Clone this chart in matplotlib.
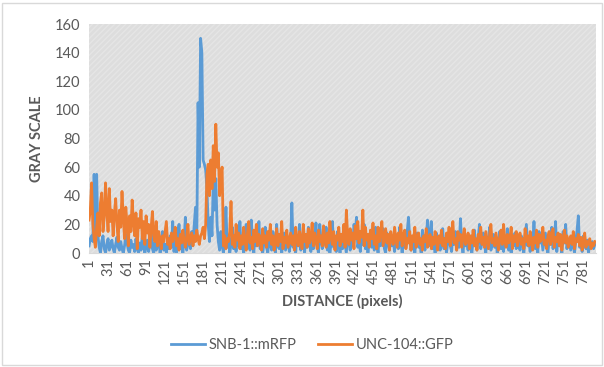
import numpy as np
import matplotlib.pyplot as plt
from matplotlib.patches import Rectangle
from matplotlib.lines import Line2D

plt.rcParams['font.family'] = ['Lato', 'DejaVu Sans']

# distance in pixels (every second pixel)
distance = np.arange(1, 800, 2)

snb1 = [
    5, 10, 12, 8, 55, 10, 55, 12, 4, 0, 8, 12, 3, 0, 6, 10, 2, 5, 9, 3,
    0, 6, 11, 4, 2, 8, 3, 0, 5, 13, 7, 2, 0, 9, 4, 6, 1, 10, 3, 0,
    7, 2, 12, 5, 0, 4, 9, 1, 6, 14, 3, 0, 8, 2, 5, 11, 0, 4, 15, 2,
    6, 0, 10, 3, 12, 4, 22, 1, 8, 0, 14, 20, 3, 6, 0, 9, 25, 2, 7, 10,
    3, 15, 8, 20, 32, 12, 105, 60, 150, 140, 65, 62, 58, 45, 20, 8, 25, 12, 50, 30,
    52, 20, 8, 2, 15, 5, 0, 10, 32, 4, 12, 0, 6, 18, 3, 9, 1, 14, 5, 22,
    3, 8, 0, 12, 20, 4, 10, 2, 23, 6, 0, 15, 5, 9, 22, 3, 11, 0, 7, 18,
    4, 0, 12, 6, 2, 15, 9, 0, 20, 5, 3, 11, 0, 8, 14, 2, 6, 10, 1, 7,
    35, 4, 9, 0, 12, 5, 20, 2, 7, 15, 0, 10, 4, 18, 6, 1, 12, 3, 8, 21,
    5, 0, 20, 9, 3, 14, 6, 18, 2, 10, 0, 7, 22, 4, 11, 1, 15, 6, 0, 9,
    3, 12, 6, 0, 16, 8, 2, 10, 5, 20, 14, 25, 4, 9, 1, 12, 6, 20, 3, 11,
    0, 8, 15, 4, 10, 2, 18, 6, 0, 12, 5, 9, 17, 3, 0, 14, 7, 2, 11, 5,
    9, 1, 13, 6, 3, 18, 8, 0, 11, 4, 7, 15, 25, 10, 2, 6, 12, 0, 9, 14,
    4, 8, 0, 16, 6, 2, 10, 23, 5, 12, 22, 3, 9, 0, 14, 6, 11, 2, 7, 17,
    3, 10, 0, 8, 13, 5, 1, 12, 6, 15, 2, 9, 4, 24, 7, 0, 11, 5, 8, 2,
    12, 4, 0, 9, 16, 6, 2, 10, 20, 3, 7, 14, 5, 0, 11, 8, 18, 2, 6, 13,
    4, 10, 0, 7, 15, 3, 9, 1, 12, 6, 17, 2, 8, 0, 11, 5, 14, 3, 9, 6,
    2, 12, 7, 0, 10, 20, 5, 8, 1, 13, 6, 22, 3, 9, 0, 15, 7, 11, 2, 8,
    14, 4, 0, 10, 6, 18, 3, 8, 22, 1, 12, 5, 9, 0, 15, 7, 20, 3, 10, 6,
    2, 11, 5, 0, 9, 16, 26, 4, 8, 1, 12, 6, 3, 9, 0, 7, 5, 8, 3, 6,
]

unc104 = [
    23, 30, 49, 20, 10, 4, 18, 28, 12, 35, 42, 15, 25, 49, 30, 15, 45, 22, 30, 12,
    28, 38, 20, 8, 30, 18, 43, 25, 10, 32, 20, 5, 26, 15, 37, 22, 12, 28, 3, 24,
    18, 30, 10, 22, 6, 26, 14, 20, 4, 18, 29, 12, 8, 22, 5, 15, 10, 3, 12, 8,
    15, 22, 6, 10, 3, 14, 8, 12, 18, 5, 10, 2, 13, 7, 16, 9, 4, 11, 20, 6,
    10, 14, 5, 12, 8, 16, 10, 6, 12, 14, 18, 10, 20, 55, 62, 40, 65, 45, 75, 50,
    90, 60, 70, 40, 55, 60, 5, 12, 3, 10, 8, 15, 36, 6, 12, 4, 20, 9, 14, 3,
    12, 6, 18, 9, 2, 14, 22, 7, 11, 3, 16, 8, 20, 5, 13, 10, 2, 17, 7, 12,
    4, 15, 9, 20, 6, 12, 2, 10, 17, 5, 13, 8, 22, 3, 11, 7, 16, 4, 9, 14,
    6, 12, 2, 18, 9, 5, 15, 10, 3, 20, 8, 13, 4, 17, 7, 11, 21, 5, 14, 9,
    3, 16, 8, 12, 5, 19, 10, 4, 14, 7, 22, 11, 6, 15, 2, 12, 9, 18, 5, 13,
    8, 20, 4, 30, 12, 6, 17, 9, 14, 3, 19, 10, 22, 7, 15, 11, 30, 5, 18, 9,
    13, 4, 16, 10, 21, 6, 12, 3, 18, 8, 14, 22, 5, 11, 17, 7, 13, 2, 15, 9,
    6, 18, 11, 4, 14, 9, 20, 5, 12, 16, 3, 10, 7, 15, 2, 12, 8, 18, 4, 11,
    14, 6, 10, 2, 12, 8, 17, 4, 9, 13, 3, 11, 6, 15, 9, 2, 12, 7, 16, 5,
    10, 3, 14, 8, 18, 5, 12, 22, 7, 10, 2, 15, 9, 13, 4, 11, 17, 6, 8, 14,
    3, 12, 7, 16, 5, 10, 2, 13, 8, 18, 6, 11, 4, 15, 9, 3, 12, 20, 7, 10,
    5, 14, 8, 2, 11, 16, 6, 20, 9, 4, 13, 7, 10, 18, 3, 12, 8, 15, 5, 11,
    14, 6, 10, 3, 17, 8, 12, 5, 15, 9, 2, 11, 7, 16, 4, 13, 8, 10, 18, 6,
    9, 3, 12, 15, 6, 10, 17, 4, 11, 8, 14, 5, 13, 2, 10, 16, 7, 12, 4, 9,
    12, 6, 15, 3, 10, 8, 13, 5, 11, 2, 9, 14, 4, 8, 6, 10, 3, 7, 5, 8,
]

x_ticks = np.arange(1, 800, 30)
y_ticks = np.arange(0, 161, 20)

blue = '#5B9BD5'
orange = '#ED7D31'
grey_txt = '#595959'

fig = plt.figure(figsize=(6.04, 3.67), dpi=100)
fig.patches.append(Rectangle((0.004, 0.006), 0.992, 0.986, transform=fig.transFigure,
                             fill=False, edgecolor='#d9d9d9', linewidth=1))

ax = fig.add_axes([0.1469, 0.3106, 0.840, 0.624])
ax.set_facecolor('#dddddd')
ax.add_patch(Rectangle((0, 0), 1, 1, transform=ax.transAxes, facecolor='none',
                       edgecolor='#e5e5e5', hatch='//////', linewidth=0, zorder=0))

ax.plot(distance, snb1, color=blue, linewidth=2.0, label='SNB-1::mRFP', zorder=2)
ax.plot(distance, unc104, color=orange, linewidth=2.0, label='UNC-104::GFP', zorder=3)

ax.set_xlim(0.5, 801)
ax.set_ylim(0, 160)
ax.set_xticks(x_ticks)
ax.set_xticklabels([str(t) for t in x_ticks], rotation=90)
ax.set_yticks(y_ticks)
ax.tick_params(length=0, labelsize=10.5, colors=grey_txt, pad=4)
ax.tick_params(axis='y', pad=6)

for s in ['top', 'right', 'left']:
    ax.spines[s].set_visible(False)
ax.spines['bottom'].set_color('#d9d9d9')

ax.set_ylabel('GRAY SCALE', fontsize=10.5, fontweight='bold', color=grey_txt, labelpad=8)
ax.set_xlabel('DISTANCE (pixels)', fontsize=10.5, fontweight='bold', color=grey_txt, labelpad=7)

handles = [Line2D([], [], color=blue, linewidth=2.0), Line2D([], [], color=orange, linewidth=2.0)]
fig.legend(handles, ['SNB-1::mRFP', 'UNC-104::GFP'], loc='center', bbox_to_anchor=(0.517, 0.06),
           ncol=2, frameon=False, fontsize=10.5, labelcolor=grey_txt, handlelength=2.3,
           handletextpad=0.25, columnspacing=1.5)

fig.savefig('out.png', dpi=100)
